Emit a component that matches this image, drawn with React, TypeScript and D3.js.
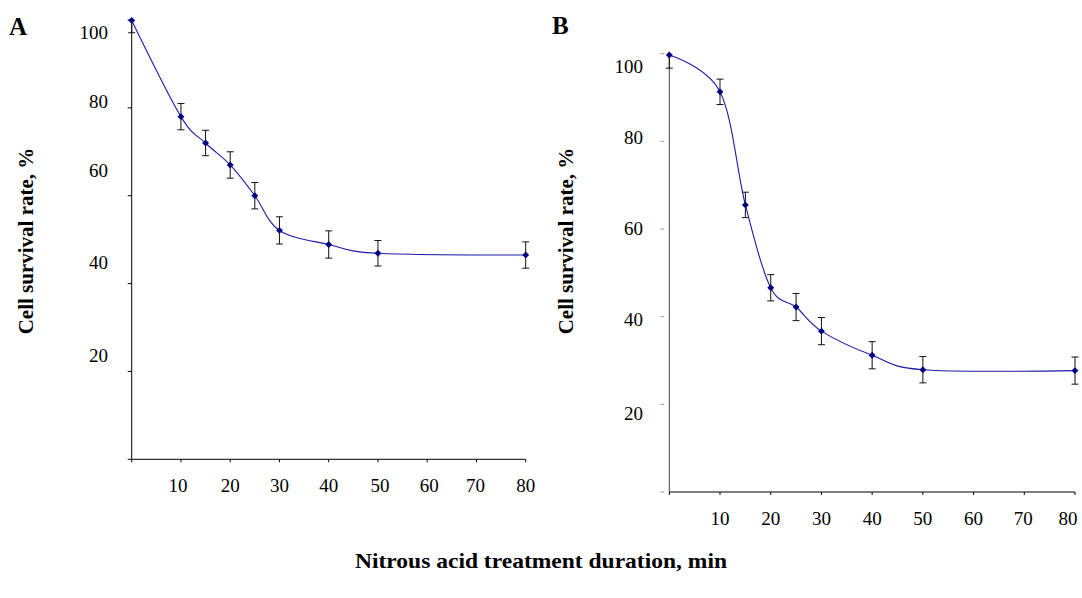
import React, { useEffect, useRef } from 'react';
import * as d3 from 'd3';

// treatment time, min
const durationA = [0, 10, 15, 20, 25, 30, 40, 50, 80];
const survivalA = [99.9, 78.0, 72.0, 67.0, 60.0, 52.1, 48.9, 46.9, 46.5];
const errorA = [2.8, 3.0, 2.9, 3.0, 3.0, 3.1, 3.1, 2.9, 3.0];

const durationB = [0, 10, 15, 20, 25, 30, 40, 50, 80];
const survivalB = [99.7, 91.3, 65.5, 46.6, 42.2, 36.7, 31.2, 27.9, 27.7];
const errorB = [3.0, 2.9, 2.9, 3.0, 3.1, 3.1, 3.1, 3.0, 3.1];

const xTicks = [0, 10, 20, 30, 40, 50, 60, 70, 80];
const xTickLabels = ['', '10', '20', '30', '40', '50', '60', '70', '80'];
const yTicks = [0, 20, 40, 60, 80, 100];
const yTickLabels = ['100', '80', '60', '40', '20'];
const yLabelValues = [100, 80, 60, 40, 20];

const FONT = '"Liberation Serif", "Times New Roman", serif';

// panel geometry (pixels) and the hand-placed label offsets of the original figure
const panels = [
  {
    key: 'A', letterX: 9, letterY: 35,
    left: 131.7, right: 525.7, top: 20, bottom: 459.3,
    labelRight: 108, labelNudge: [12, -7, -25, -21, -16],
    titleX: 26, xLabelNudge: [0, -3, 0, 0, 0, 2, 2, -1, 0],
    yTickGap: 0, yTickColor: '#000', yAxisColor: '#000',
    duration: durationA, survival: survivalA, error: errorA,
  },
  {
    key: 'B', letterX: 552, letterY: 34,
    left: 669.3, right: 1075, top: 53.7, bottom: 492,
    labelRight: 643, labelNudge: [13, -4, -1, 3, 9],
    titleX: 566, xLabelNudge: [0, 0, 0, 0, 0, 0, 0, -1, -7],
    yTickGap: 5, yTickColor: '#999', yAxisColor: '#444',
    duration: durationB, survival: survivalB, error: errorB,
  },
];

const App = () => {
  const svgRef = useRef(null);

  useEffect(() => {
    const svg = d3.select(svgRef.current);
    svg.selectAll('*').remove();

    panels.forEach((p) => {
      const x = d3.scaleLinear().domain([0, 80]).range([p.left, p.right]);
      const y = d3.scaleLinear().domain([0, 100]).range([p.bottom, p.top]);
      const g = svg.append('g');

      // clip for error bars at the top of the plot area
      const clipId = 'clip' + p.key;
      svg.append('clipPath').attr('id', clipId)
        .append('rect')
        .attr('x', p.left - 20).attr('y', y(100))
        .attr('width', p.right - p.left + 40).attr('height', p.bottom - y(100) + 20);

      // axes
      g.append('line')
        .attr('x1', x(0)).attr('x2', x(0))
        .attr('y1', y(100) - 1).attr('y2', y(0))
        .attr('stroke', p.yAxisColor).attr('stroke-width', 1);
      g.append('line')
        .attr('x1', x(0)).attr('x2', x(80))
        .attr('y1', y(0)).attr('y2', y(0))
        .attr('stroke', '#000').attr('stroke-width', 1);

      g.selectAll('.xt')
        .data(xTicks)
        .enter()
        .append('line')
        .attr('x1', d => x(d)).attr('x2', d => x(d))
        .attr('y1', y(0)).attr('y2', y(0) + 3)
        .attr('stroke', '#000');

      g.selectAll('.yt')
        .data(yTicks)
        .enter()
        .append('line')
        .attr('x1', x(0) - 4 - p.yTickGap).attr('x2', x(0) - p.yTickGap)
        .attr('y1', d => y(d)).attr('y2', d => y(d))
        .attr('stroke', p.yTickColor);

      g.selectAll('.xl')
        .data(xTickLabels)
        .enter()
        .append('text')
        .attr('x', (d, i) => x(xTicks[i]) + p.xLabelNudge[i])
        .attr('y', y(0) + 26)
        .attr('dy', '0.35em')
        .attr('text-anchor', 'middle')
        .attr('font-family', FONT)
        .attr('font-size', 19)
        .text(d => d);

      g.selectAll('.yl')
        .data(yTickLabels)
        .enter()
        .append('text')
        .attr('x', p.labelRight)
        .attr('y', (d, i) => y(yLabelValues[i]) + p.labelNudge[i])
        .attr('dy', '0.35em')
        .attr('text-anchor', 'end')
        .attr('font-family', FONT)
        .attr('font-size', 19)
        .text(d => d);

      // y title
      g.append('text')
        .attr('transform', `translate(${p.titleX}, 241) rotate(-90)`)
        .attr('dy', '0.35em')
        .attr('text-anchor', 'middle')
        .attr('font-family', FONT)
        .attr('font-weight', 'bold')
        .attr('font-size', 21)
        .text('Cell survival rate, %');

      // panel letter
      g.append('text')
        .attr('x', p.letterX).attr('y', p.letterY)
        .attr('font-family', FONT)
        .attr('font-weight', 'bold')
        .attr('font-size', 25)
        .text(p.key);

      const pts = p.duration.map((d, i) => ({ t: d, v: p.survival[i], e: p.error[i] }));

      // error bars
      const eb = g.append('g').attr('clip-path', `url(#${clipId})`);
      pts.forEach((d) => {
        const cx = x(d.t);
        eb.append('line')
          .attr('x1', cx).attr('x2', cx)
          .attr('y1', y(d.v + d.e)).attr('y2', y(d.v - d.e))
          .attr('stroke', '#111').attr('stroke-width', 1);
        [d.v + d.e, d.v - d.e].forEach((v) => {
          eb.append('line')
            .attr('x1', cx - 3.5).attr('x2', cx + 3.5)
            .attr('y1', y(v)).attr('y2', y(v))
            .attr('stroke', '#111').attr('stroke-width', 1);
        });
      });

      // smoothed line
      const line = d3.line()
        .x(d => x(d.t))
        .y(d => y(d.v))
        .curve(d3.curveCardinal.tension(0));
      g.append('path')
        .datum(pts)
        .attr('d', line)
        .attr('fill', 'none')
        .attr('stroke', '#1c1ca8')
        .attr('stroke-width', 1.1);

      // diamond markers
      const diamond = d3.symbol().type(d3.symbolDiamond2).size(30);
      g.selectAll('.mk')
        .data(pts)
        .enter()
        .append('path')
        .attr('d', diamond)
        .attr('transform', d => `translate(${x(d.t)}, ${y(d.v)})`)
        .attr('fill', '#000080');
    });

    svg.append('text')
      .attr('x', 541).attr('y', 561)
      .attr('dy', '0.35em')
      .attr('text-anchor', 'middle')
      .attr('font-family', FONT)
      .attr('font-weight', 'bold')
      .attr('font-size', 21)
      .attr('textLength', 372)
      .attr('lengthAdjust', 'spacingAndGlyphs')
      .text('Nitrous acid treatment duration, min');
  }, []);

  return (
    <div style={{ position: 'absolute', left: 0, top: 0 }}>
      <svg ref={svgRef} width={1082} height={598} style={{ display: 'block', background: '#fff' }}></svg>
    </div>
  );
};

export default App;
